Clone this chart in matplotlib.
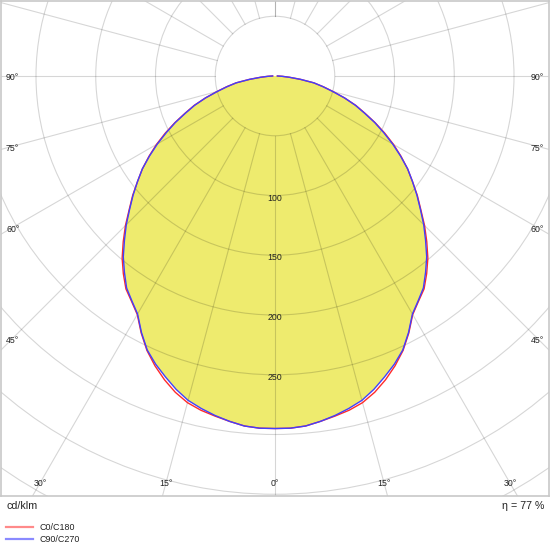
import numpy as np
import matplotlib
matplotlib.use("Agg")
import matplotlib.pyplot as plt
from matplotlib.lines import Line2D
from matplotlib.patches import Circle

plt.rcParams['font.family'] = ['Liberation Sans', 'DejaVu Sans']

# ======================
# Luminous intensity (cd/klm), 0..90 deg in 2.5 deg steps, symmetric
# ======================
angles = [0, 2.5, 5, 7.5, 10, 12.5, 15, 17.5, 20, 22.5,
          25, 27.5, 30, 32.5, 35, 37.5, 40, 42.5, 45, 47.5,
          50, 52.5, 55, 57.5, 60, 62.5, 65, 67.5, 70, 72.5,
          75, 77.5, 80, 82.5, 85, 87.5, 90]

c90_c270 = [295, 295, 294, 291.5, 288.5, 285, 281, 275, 268, 261,
            253, 242, 230, 223, 216.5, 207, 197.5, 186.5, 176, 165,
            155, 145, 135.5, 124.5, 113.6, 102.5, 92, 81, 71.5, 61,
            50, 41, 33, 21.5, 12, 6, 2]

c0_c180 = [295, 295, 294, 291.5, 289, 286.5, 283, 277.5, 270.5, 262.5,
           253.5, 242.5, 230.5, 223.5, 217.5, 208.5, 199, 188, 177, 165.5,
           155.5, 145, 135.5, 125, 114.5, 103.5, 92.5, 81.5, 72, 61,
           50.3, 41.3, 33, 21.5, 12, 6, 2]

ring_values = [50, 100, 150, 200, 250, 300, 350, 400, 450]
ring_labels = [100, 150, 200, 250]
side_angles = [90, 75, 60, 45]
bottom_angles = [30, 15, 0]
eta = 77

# ======================
# Geometry (pixels of the 550x550 output)
# ======================
W, H = 550, 550
s = 1.195            # px per cd/klm
cx, cy = 275, 76     # pole position in px (from top-left)
box_l, box_r, box_t, box_b = 1, 549, 1, 496


def curve(vals):
    a = np.radians(np.array(angles, dtype=float))
    v = np.array(vals, dtype=float)
    full_a = np.concatenate([-a[::-1], a[1:]])
    full_v = np.concatenate([v[::-1], v[1:]])
    return full_v * np.sin(full_a), -full_v * np.cos(full_a)


fig = plt.figure(figsize=(W / 100, H / 100), dpi=100)
ax = fig.add_axes([box_l / W, 1 - box_b / H, (box_r - box_l) / W, (box_b - box_t) / H])
ax.set_xlim((box_l - cx) / s, (box_r - cx) / s)
ax.set_ylim(-(box_b - cy) / s, (cy - box_t) / s)
ax.set_aspect('equal')
ax.set_xticks([])
ax.set_yticks([])
for sp in ax.spines.values():
    sp.set_color('#c8c8c8')
    sp.set_linewidth(1.2)

# fill
bx, by = curve(c90_c270)
ax.fill(bx, by, color='#eeeb6e', lw=0, zorder=1)

# grid
grid_kw = dict(color='black', alpha=0.16, lw=0.8, zorder=2)
for r in ring_values:
    ax.add_patch(Circle((0, 0), r, fill=False, **grid_kw))
for a in range(-180, 181, 15):
    t = np.radians(a)
    ax.plot([50 * np.sin(t), 700 * np.sin(t)], [-50 * np.cos(t), -700 * np.cos(t)], **grid_kw)

# curves
rx, ry = curve(c0_c180)
ax.plot(rx, ry, color='#ff2a2a', lw=1.0, zorder=3)
ax.plot(bx, by, color='#4040ff', lw=1.0, zorder=4)

# ring labels
for r in ring_labels:
    ax.text(0, -r - 2.5 / s, str(r), ha='center', va='center', fontsize=6.3, color='#222222', zorder=5)

# angle labels
xs = (cx - 12.7) / s
for a in side_angles:
    t = np.radians(a)
    y = -xs / np.tan(t) - 2 / s if a != 90 else -1.5 / s
    ax.text(-xs, y, f"{a}°", ha='center', va='center', fontsize=6.3, color='#222222')
    ax.text(xs, y, f"{a}°", ha='center', va='center', fontsize=6.3, color='#222222')
yb = -(483 - cy) / s
for a in bottom_angles:
    x = -yb * np.tan(np.radians(a))
    ax.text(-x, yb, f"{a}°", ha='center', va='center', fontsize=6.3, color='#222222')
    if a != 0:
        ax.text(x, yb, f"{a}°", ha='center', va='center', fontsize=6.3, color='#222222')

# footer
fig.text(6 / W, 1 - 506 / H, "cd/klm", ha='left', va='center', fontsize=7.7, color='#222222')
fig.text(544 / W, 1 - 506 / H, f"η = {eta} %", ha='right', va='center', fontsize=7.7, color='#222222')

fig.add_artist(Line2D([6 / W, 33 / W], [1 - 527 / H, 1 - 527 / H], color='#ff8a8a', lw=1.6))
fig.add_artist(Line2D([6 / W, 33 / W], [1 - 539 / H, 1 - 539 / H], color='#8a8aff', lw=1.6))
fig.text(39 / W, 1 - 527 / H, "C0/C180", ha='left', va='center', fontsize=6.4, color='#222222')
fig.text(39 / W, 1 - 539 / H, "C90/C270", ha='left', va='center', fontsize=6.4, color='#222222')

fig.savefig("out.png", dpi=100)
